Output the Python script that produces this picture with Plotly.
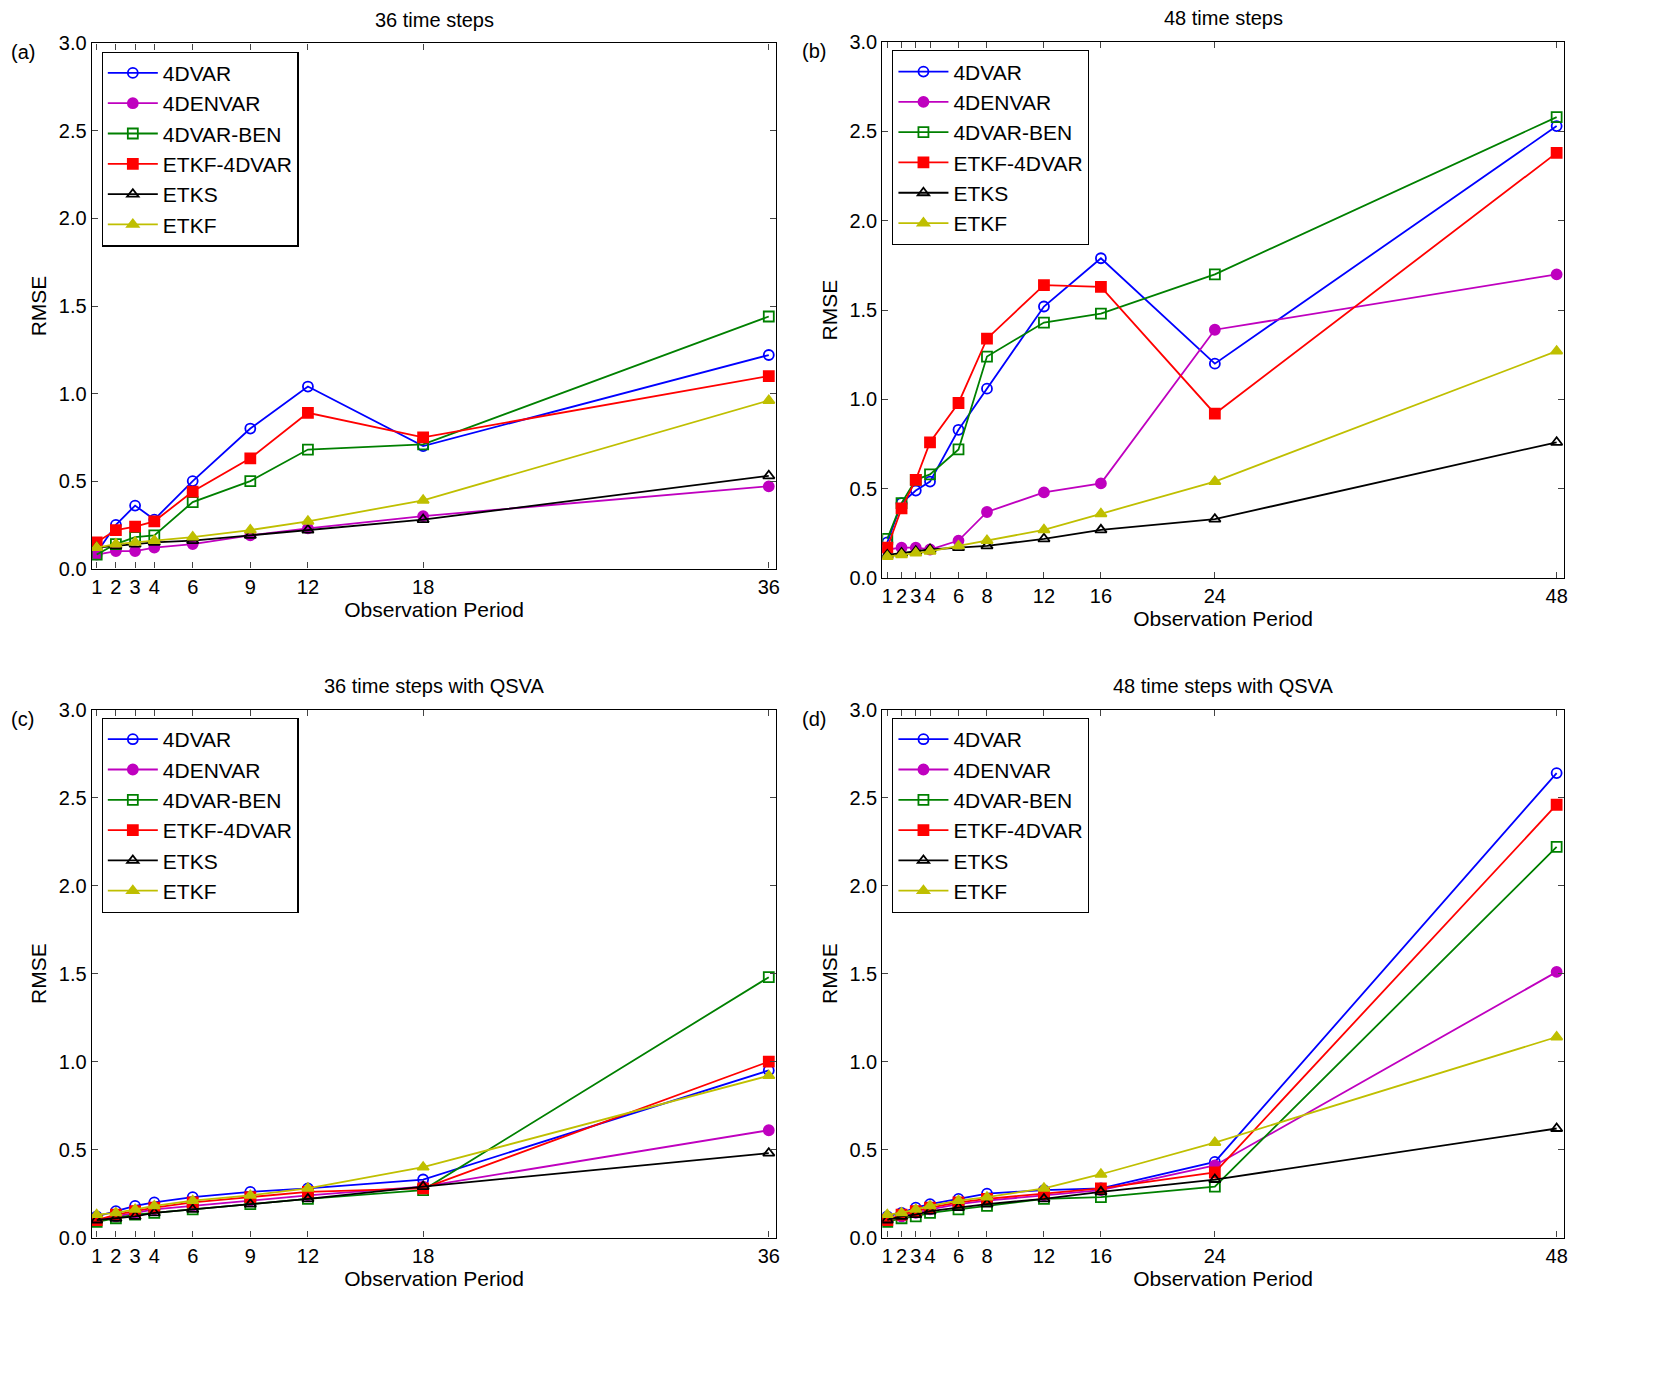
import plotly.graph_objects as go

# observation periods
obs_36 = [1, 2, 3, 4, 6, 9, 12, 18, 36]
obs_48 = [1, 2, 3, 4, 6, 8, 12, 16, 24, 48]

method_names = ["4DVAR", "4DENVAR", "4DVAR-BEN", "ETKF-4DVAR", "ETKS", "ETKF"]

# (a) 36 time steps
rmse_a = [
    [0.09, 0.25, 0.36, 0.28, 0.50, 0.80, 1.04, 0.70, 1.22],
    [0.08, 0.10, 0.10, 0.12, 0.14, 0.19, 0.23, 0.30, 0.47],
    [0.08, 0.14, 0.18, 0.19, 0.38, 0.50, 0.68, 0.71, 1.44],
    [0.15, 0.22, 0.24, 0.27, 0.44, 0.63, 0.89, 0.75, 1.10],
    [0.12, 0.13, 0.14, 0.15, 0.16, 0.19, 0.22, 0.28, 0.53],
    [0.12, 0.14, 0.15, 0.16, 0.18, 0.22, 0.27, 0.39, 0.96],
]
# (b) 48 time steps
rmse_b = [
    [0.20, 0.42, 0.49, 0.54, 0.83, 1.06, 1.52, 1.79, 1.20, 2.53],
    [0.16, 0.17, 0.17, 0.16, 0.21, 0.37, 0.48, 0.53, 1.39, 1.70],
    [0.22, 0.42, 0.55, 0.58, 0.72, 1.24, 1.43, 1.48, 1.70, 2.58],
    [0.17, 0.39, 0.55, 0.76, 0.98, 1.34, 1.64, 1.63, 0.92, 2.38],
    [0.13, 0.14, 0.15, 0.16, 0.17, 0.18, 0.22, 0.27, 0.33, 0.76],
    [0.12, 0.13, 0.14, 0.15, 0.18, 0.21, 0.27, 0.36, 0.54, 1.27],
]
# (c) 36 time steps with QSVA
rmse_c = [
    [0.12, 0.15, 0.18, 0.20, 0.23, 0.26, 0.28, 0.33, 0.95],
    [0.10, 0.12, 0.14, 0.16, 0.18, 0.21, 0.24, 0.29, 0.61],
    [0.09, 0.11, 0.13, 0.14, 0.16, 0.19, 0.22, 0.27, 1.48],
    [0.10, 0.13, 0.15, 0.17, 0.20, 0.23, 0.26, 0.28, 1.00],
    [0.10, 0.11, 0.12, 0.14, 0.16, 0.19, 0.22, 0.29, 0.48],
    [0.13, 0.14, 0.16, 0.18, 0.21, 0.24, 0.28, 0.40, 0.92],
]
# (d) 48 time steps with QSVA
rmse_d = [
    [0.12, 0.14, 0.17, 0.19, 0.22, 0.25, 0.27, 0.28, 0.43, 2.64],
    [0.10, 0.12, 0.14, 0.16, 0.19, 0.21, 0.24, 0.27, 0.41, 1.51],
    [0.09, 0.11, 0.12, 0.14, 0.16, 0.18, 0.22, 0.23, 0.29, 2.22],
    [0.10, 0.13, 0.15, 0.17, 0.20, 0.22, 0.25, 0.28, 0.37, 2.46],
    [0.10, 0.12, 0.13, 0.15, 0.17, 0.19, 0.22, 0.26, 0.33, 0.62],
    [0.13, 0.14, 0.16, 0.18, 0.21, 0.23, 0.28, 0.36, 0.54, 1.14],
]

styles = [
    ("#0000ff", "circle-open"),
    ("#bf00bf", "circle"),
    ("#008000", "square-open"),
    ("#ff0000", "square"),
    ("#000000", "triangle-up-open"),
    ("#bfbf00", "triangle-up"),
]

FONT = "Liberation Sans, Arial, sans-serif"

panels = [
    ("(a)", "36 time steps", obs_36, rmse_a, [0.05, 0.464], [0.595, 0.982], [0.74, 36.4]),
    ("(b)", "48 time steps", obs_48, rmse_b, [0.528, 0.940], [0.588, 0.983], [0.65, 48.5]),
    ("(c)", "36 time steps with QSVA", obs_36, rmse_c, [0.05, 0.464], [0.102, 0.491], [0.74, 36.4]),
    ("(d)", "48 time steps with QSVA", obs_48, rmse_d, [0.528, 0.940], [0.102, 0.491], [0.65, 48.5]),
]

fig = go.Figure()
layout = {}
annotations = []

for i, (tag, title, xs, data, xdom, ydom, xr) in enumerate(panels):
    n = "" if i == 0 else str(i + 1)
    leg = "legend" + n
    for name, ys, (col, sym) in zip(method_names, data, styles):
        fig.add_trace(go.Scatter(
            x=xs, y=ys, mode="lines+markers", name=name,
            line=dict(color=col, width=1.8),
            marker=dict(symbol=sym, color=col, size=10, line=dict(color=col, width=1.8)),
            xaxis="x" + n, yaxis="y" + n, legend=leg,
        ))
    layout["xaxis" + n] = dict(
        domain=xdom, anchor="y" + n, range=xr, tickvals=xs, ticks="inside",
        ticklen=6, showline=True, mirror="ticks", linecolor="black", linewidth=1.2,
        showgrid=False, zeroline=False, tickfont=dict(size=20),
        title=dict(text="Observation Period", font=dict(size=21), standoff=2),
    )
    layout["yaxis" + n] = dict(
        domain=ydom, anchor="x" + n, range=[0, 3.0], dtick=0.5, tickformat=".1f",
        ticks="inside", ticklen=6, showline=True, mirror="ticks", linecolor="black",
        linewidth=1.2, showgrid=False, zeroline=False, tickfont=dict(size=20),
        title=dict(text="RMSE", font=dict(size=21), standoff=6),
    )
    layout[leg] = dict(
        x=xdom[0] + 0.006, y=ydom[1] - 0.006, xanchor="left", yanchor="top",
        bordercolor="black", borderwidth=1.2, bgcolor="white",
        font=dict(size=21, family=FONT), tracegroupgap=0, itemwidth=50,
    )
    xc = (xdom[0] + xdom[1]) / 2
    annotations.append(dict(text=title, x=xc, y=ydom[1] + 0.008, xref="paper", yref="paper",
                            xanchor="center", yanchor="bottom", showarrow=False,
                            font=dict(size=20)))
    annotations.append(dict(text=tag, x=xdom[0] - 0.05, y=ydom[1] + 0.003, xref="paper",
                            yref="paper", xanchor="left", yanchor="top", showarrow=False,
                            font=dict(size=20)))

fig.update_layout(
    width=1659, height=1379,
    margin=dict(l=0, r=0, t=0, b=0),
    plot_bgcolor="white", paper_bgcolor="white",
    font=dict(family=FONT, color="black"),
    annotations=annotations,
    **layout,
)

fig.write_html("out.html")
